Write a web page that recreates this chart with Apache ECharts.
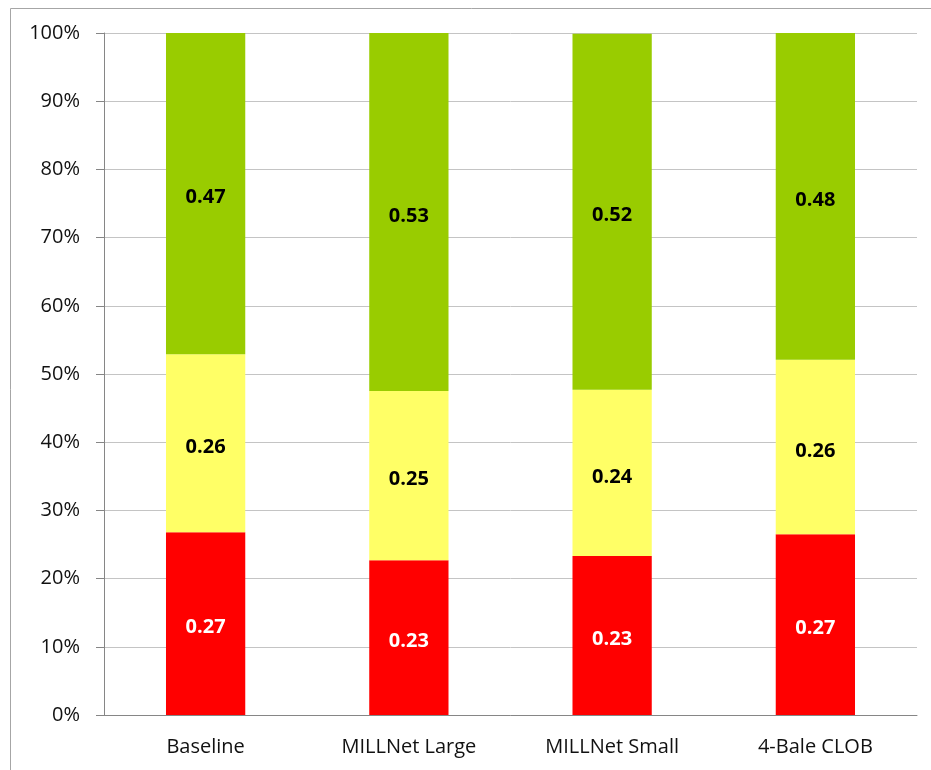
<!DOCTYPE html>
<html>
<head>
	<meta charset="utf-8">
	<title>stacked share</title>
	<script src="https://cdn.jsdelivr.net/npm/echarts@6/dist/echarts.min.js"></script>
</head>
<body style="margin:0;background:#fff">
<div id="chart" style="width:931px;height:770px;"></div>
<script>
// categories and shares (fractions of 1)
var categories = ['Baseline', 'MILLNet Large', 'MILLNet Small', '4-Bale CLOB'];
var redVals    = [0.268, 0.227, 0.233, 0.265];
var yellowVals = [0.261, 0.248, 0.244, 0.256];
var greenVals  = [0.471, 0.526, 0.522, 0.479];
var yTicks = [0, 0.1, 0.2, 0.3, 0.4, 0.5, 0.6, 0.7, 0.8, 0.9, 1];

var font = '"Open Sans", sans-serif';
var chart = echarts.init(document.getElementById('chart'));

function barSeries(name, data, color, labelColor){
    return {
        name: name,
        type: 'bar',
        stack: 'all',
        barWidth: '39%',
        data: data,
        itemStyle: {color: color},
        label: {
            show: true,
            position: 'inside',
            offset: [0, 4],
            color: labelColor,
            fontFamily: font,
            fontWeight: 'bold',
            fontSize: 20,
            formatter: function(p){ return p.value.toFixed(2); }
        }
    };
}

chart.setOption({
    animation: false,
    grid: {left: 104, right: 14, top: 33, bottom: 55},
    graphic: [{
        type: 'rect',
        shape: {x: 10.5, y: 8.5, width: 1000, height: 1000},
        style: {fill: 'none', stroke: '#a6a6a6', lineWidth: 1}
    }],
    xAxis: {
        type: 'category',
        data: categories,
        axisLine: {lineStyle: {color: '#868686'}},
        axisTick: {length: 7, lineStyle: {color: '#868686'}},
        axisLabel: {color: '#111', fontFamily: font, fontSize: 20, margin: 22}
    },
    yAxis: {
        type: 'value',
        min: 0,
        max: 1,
        interval: 0.1,
        axisLine: {show: true, lineStyle: {color: '#868686'}},
        axisTick: {show: true, length: 8, lineStyle: {color: '#868686'}},
        splitLine: {lineStyle: {color: '#c4c4c4'}},
        axisLabel: {
            color: '#111', fontFamily: font, fontSize: 20, margin: 24,
            formatter: function(v){
                for (var i = 0; i < yTicks.length; i++) {
                    if (Math.abs(yTicks[i] - v) < 1e-6) return Math.round(yTicks[i] * 100) + '%';
                }
                return '';
            }
        }
    },
    series: [
        barSeries('red', redVals, '#ff0000', '#ffffff'),
        barSeries('yellow', yellowVals, '#ffff66', '#000000'),
        barSeries('green', greenVals, '#99cc00', '#000000')
    ]
});
</script>
</body>
</html>
